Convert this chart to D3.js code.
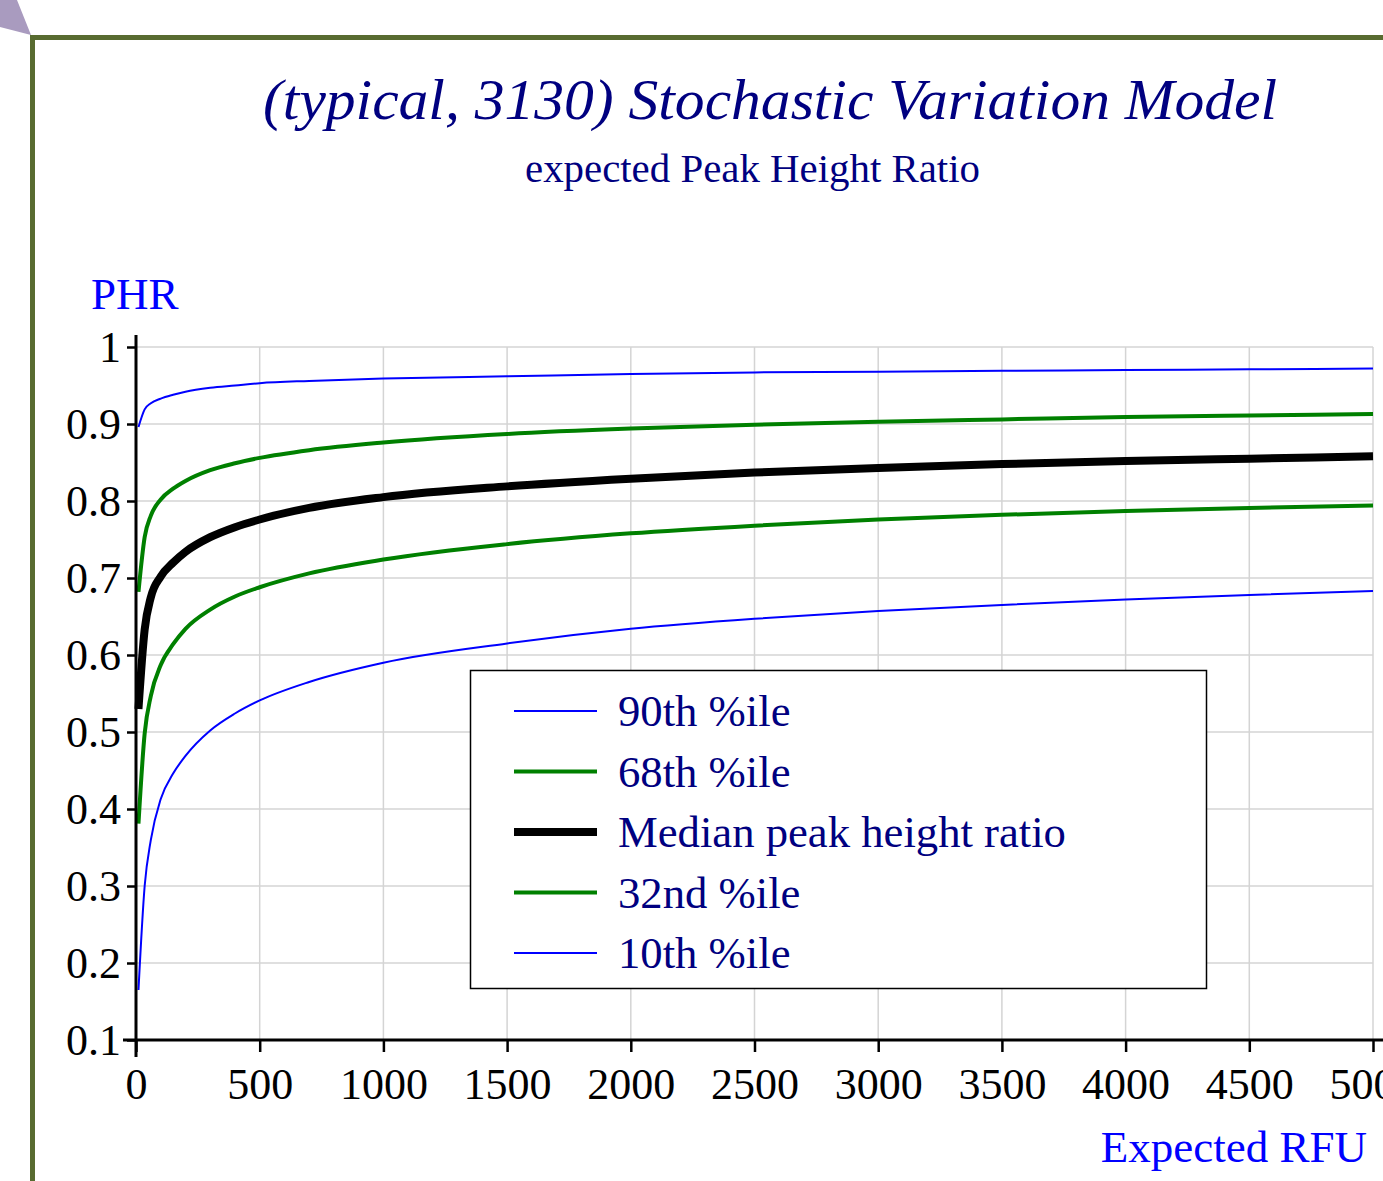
<!DOCTYPE html>
<html>
<head>
<meta charset="utf-8">
<script src="https://cdn.jsdelivr.net/npm/d3@7"></script>
<style>
  html, body { margin: 0; padding: 0; background: #ffffff; }
  svg { display: block; }
</style>
</head>
<body>
<svg id="chart" width="1383" height="1181"></svg>
<script>
// ---- data ----
const rfu    = [10, 35, 60, 100, 150, 200, 300, 400, 500, 700, 1000, 1500, 2000, 2500, 3000, 3500, 4000, 4500, 5000];
const p90    = [0.896, 0.919, 0.927, 0.933, 0.938, 0.942, 0.947, 0.950, 0.953, 0.956, 0.959, 0.962, 0.965, 0.967, 0.968, 0.969, 0.970, 0.971, 0.972];
const p68    = [0.682, 0.753, 0.781, 0.802, 0.816, 0.826, 0.840, 0.849, 0.856, 0.866, 0.876, 0.887, 0.894, 0.899, 0.903, 0.906, 0.909, 0.911, 0.913];
const median = [0.530, 0.633, 0.675, 0.702, 0.720, 0.734, 0.753, 0.766, 0.776, 0.791, 0.805, 0.819, 0.829, 0.837, 0.843, 0.848, 0.852, 0.855, 0.858];
const p32    = [0.381, 0.498, 0.547, 0.587, 0.614, 0.634, 0.659, 0.676, 0.688, 0.706, 0.724, 0.744, 0.758, 0.768, 0.776, 0.782, 0.787, 0.791, 0.794];
const p10    = [0.165, 0.300, 0.360, 0.413, 0.446, 0.469, 0.502, 0.524, 0.541, 0.565, 0.590, 0.615, 0.634, 0.647, 0.657, 0.665, 0.672, 0.678, 0.683];
const xTicks = [0, 500, 1000, 1500, 2000, 2500, 3000, 3500, 4000, 4500, 5000];
const yTicks = [0.1, 0.2, 0.3, 0.4, 0.5, 0.6, 0.7, 0.8, 0.9, 1];
const legendLabels = ["90th %ile", "68th %ile", "Median peak height ratio", "32nd %ile", "10th %ile"];
const titleText = "(typical, 3130) Stochastic Variation Model";
const subtitleText = "expected Peak Height Ratio";
const yLabel = "PHR";
const xLabel = "Expected RFU";

// ---- setup ----
const svg = d3.select("#chart");
const serif = "'Liberation Serif', 'Times New Roman', serif";

// decorative corner and frame
svg.append("polygon")
  .attr("points", "0,0 17,0 31,35 0,27")
  .attr("fill", "#a99bbf");
svg.append("rect")
  .attr("x", 32.5).attr("y", 37.5)
  .attr("width", 1500).attr("height", 1300)
  .attr("fill", "#ffffff")
  .attr("stroke", "#586b30").attr("stroke-width", 5);

const x = d3.scaleLinear().domain([0, 5000]).range([136, 1373]);
const y = d3.scaleLinear().domain([0.1, 1]).range([1040, 347]);

// grid
const grid = svg.append("g");
grid.selectAll("line.h").data(yTicks).join("line")
  .attr("x1", x(0)).attr("x2", x(5000))
  .attr("y1", d => y(d)).attr("y2", d => y(d))
  .attr("stroke", "#d4d4d4").attr("stroke-width", 1.5);
grid.selectAll("line.v").data(xTicks.filter(d => d > 0)).join("line")
  .attr("x1", d => x(d)).attr("x2", d => x(d))
  .attr("y1", y(1)).attr("y2", y(0.1))
  .attr("stroke", "#d4d4d4").attr("stroke-width", 1.5);

// series
const series = [
  { vals: p90, color: "#0000ff", w: 2 },
  { vals: p68, color: "#008000", w: 4 },
  { vals: median, color: "#000000", w: 8 },
  { vals: p32, color: "#008000", w: 4 },
  { vals: p10, color: "#0000ff", w: 2 }
];
const line = d3.line().x(d => x(d[0])).y(d => y(d[1])).curve(d3.curveMonotoneX);
svg.append("g").selectAll("path").data(series).join("path")
  .attr("d", s => line(rfu.map((r, i) => [r, s.vals[i]])))
  .attr("fill", "none")
  .attr("stroke", s => s.color)
  .attr("stroke-width", s => s.w);

// axes
const yAxis = d3.axisLeft(y).tickValues(yTicks).tickSize(9).tickSizeOuter(0)
  .tickFormat(d => d === 1 ? "1" : d3.format(".1f")(d));
const gy = svg.append("g").attr("transform", `translate(${x(0)},0)`).call(yAxis);
gy.select(".domain").remove();
gy.selectAll(".tick line").attr("stroke", "#000").attr("stroke-width", 2.5);
gy.selectAll(".tick text")
  .attr("x", -15).attr("dy", "0.34em")
  .attr("font-family", serif).attr("font-size", 44).attr("fill", "#000");

const xAxis = d3.axisBottom(x).tickValues(xTicks).tickSize(12).tickSizeOuter(0)
  .tickFormat(d3.format("d"));
const gx = svg.append("g").attr("transform", `translate(0,${y(0.1)})`).call(xAxis);
gx.select(".domain").remove();
gx.selectAll(".tick line").attr("stroke", "#000").attr("stroke-width", 2.5);
gx.selectAll(".tick text")
  .attr("y", 28).attr("dy", "0.71em")
  .attr("font-family", serif).attr("font-size", 44).attr("fill", "#000");

// axis lines
svg.append("line")
  .attr("x1", x(0)).attr("x2", x(0))
  .attr("y1", y(1) - 12).attr("y2", y(0.1) + 17)
  .attr("stroke", "#000").attr("stroke-width", 3);
svg.append("line")
  .attr("x1", x(0) - 13).attr("x2", 1400)
  .attr("y1", y(0.1)).attr("y2", y(0.1))
  .attr("stroke", "#000").attr("stroke-width", 3);

// titles
svg.append("text")
  .attr("x", 263).attr("y", 119)
  .attr("font-family", serif).attr("font-style", "italic")
  .attr("font-size", 58).attr("fill", "#000080")
  .attr("textLength", 1014).attr("lengthAdjust", "spacingAndGlyphs")
  .text(titleText);
svg.append("text")
  .attr("x", 525).attr("y", 182)
  .attr("font-family", serif).attr("font-size", 41).attr("fill", "#000080")
  .attr("textLength", 455).attr("lengthAdjust", "spacingAndGlyphs")
  .text(subtitleText);
svg.append("text")
  .attr("x", 91).attr("y", 309)
  .attr("font-family", serif).attr("font-size", 45).attr("fill", "#0000ff")
  .text(yLabel);
svg.append("text")
  .attr("x", 1367).attr("y", 1162).attr("text-anchor", "end")
  .attr("font-family", serif).attr("font-size", 45).attr("fill", "#0000ff")
  .text(xLabel);

// legend
const lg = svg.append("g");
lg.append("rect")
  .attr("x", 470.5).attr("y", 670.5).attr("width", 736).attr("height", 318)
  .attr("fill", "#ffffff").attr("stroke", "#000").attr("stroke-width", 1.5);
const rowY = i => 711 + i * 60.5;
lg.selectAll("line.leg").data(series).join("line")
  .attr("x1", 514).attr("x2", 597)
  .attr("y1", (d, i) => rowY(i)).attr("y2", (d, i) => rowY(i))
  .attr("stroke", d => d.color).attr("stroke-width", d => d.w);
lg.selectAll("text.leg").data(legendLabels).join("text")
  .attr("x", 618).attr("y", (d, i) => rowY(i) + 15)
  .attr("font-family", serif).attr("font-size", 44.7).attr("fill", "#000080")
  .text(d => d);
</script>
</body>
</html>
